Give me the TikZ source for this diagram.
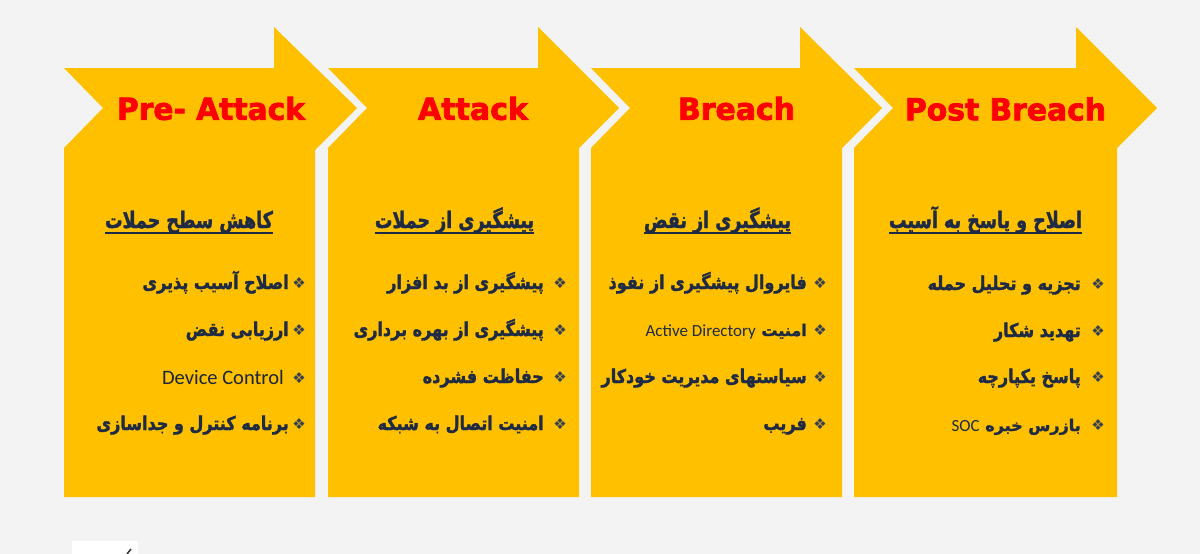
\documentclass[tikz,border=0pt]{standalone}
\usepackage{fontspec}
\usepackage{graphicx}
\TeXXeTstate=1
\newfontfamily\fa[Script=Arabic, BoldFeatures={FakeBold=1.8}]{DejaVu Sans}
\newfontfamily\ttlfont[BoldFeatures={FakeBold=2.5}]{DejaVu Sans}
\newfontfamily\latfont{Carlito}
\newfontfamily\symfont{DejaVu Sans}
\definecolor{bg}{HTML}{F3F3F3}
\definecolor{gold}{HTML}{FFC000}
\definecolor{navy}{HTML}{1F2A44}
\definecolor{redt}{HTML}{FF0000}
\newcommand{\panelshape}[4]{%
  \fill[gold] (#1,68) -- (#3,68) -- (#3,27) -- (#4,108) -- (#2,{108+#4-#2}) -- (#2,497) -- (#1,497) -- (#1,148) -- ({#1+39},108) -- cycle;}
\newcommand{\lat}[2]{\beginL{\latfont\mdseries\fontsize{#1}{#1}\selectfont #2}\endL}
\newcommand{\hdg}[1]{\scalebox{1}[1.3]{\beginR #1\endR}}
\newcommand{\itm}[1]{\scalebox{1}[1.18]{\beginR #1\endR}}
\tikzset{
  ttl/.style={inner sep=0pt, text=redt, font=\ttlfont\bfseries},
  heading/.style={inner xsep=0pt, inner ysep=0pt, anchor=base, text=navy, font=\fa\bfseries\fontsize{17.5}{21}\selectfont},
  uline/.style={navy, line width=1.3pt},
  item/.style={inner sep=0pt, anchor=base east, text=navy, font=\fa\bfseries\fontsize{16}{19}\selectfont},
  latitem/.style={inner sep=0pt, anchor=base east, text=navy!85!black, font=\latfont\fontsize{20.5}{24}\selectfont},
  bul/.style={inner sep=0pt, text=navy!75!gray, font=\symfont\fontsize{15}{17}\selectfont}
}
\begin{document}
\begin{tikzpicture}[x=1pt,y=-1pt]
\useasboundingbox (0,0) rectangle (1200,554);
\fill[bg] (0,0) rectangle (1200,554);
% panels
\panelshape{64}{315}{274}{357}
\panelshape{328}{579}{538}{619}
\panelshape{591}{842}{800}{882}
\panelshape{854}{1117}{1076}{1157}
% titles
\node[ttl] (t1) at (211,108.5) {\resizebox{188pt}{23pt}{Pre- Attack}};
\node[ttl] (t2) at (473,108.5) {\resizebox{110pt}{23pt}{Attack}};
\node[ttl] (t3) at (736.5,108.5) {\resizebox{117pt}{23pt}{Breach}};
\node[ttl] (t4) at (1005.5,109) {\resizebox{201pt}{23pt}{Post Breach}};
% headings
\node[heading] (h1) at (189,228) {\hdg{کاهش سطح حملات}};
\node[heading] (h2) at (454.5,228) {\hdg{پیشگیری از حملات}};
\node[heading] (h3) at (717.5,228) {\hdg{پیشگیری از نقض}};
\node[heading] (h4) at (985.5,228) {\hdg{اصلاح و پاسخ به آسیب}};
\draw[uline] (h1.west |- 0,233) -- (h1.east |- 0,233);
\draw[uline] (h2.west |- 0,233) -- (h2.east |- 0,233);
\draw[uline] (h3.west |- 0,233) -- (h3.east |- 0,233);
\draw[uline] (h4.west |- 0,233) -- (h4.east |- 0,233);
% panel 1 items
\node[item] (a1) at (289,289) {\itm{اصلاح آسیب پذیری}};
\node[item] (a2) at (289,336) {\itm{ارزیابی نقض}};
\node[latitem] (a3) at (284,384) {Device Control};
\node[item] (a4) at (289,430) {\itm{برنامه کنترل و جداسازی}};
\foreach \y [count=\i] in {289,336,384,430} \node[bul] (ba\i) at (299,\y-6) {❖};
% panel 2 items
\node[item] (b1) at (544,289) {\itm{پیشگیری از بد افزار}};
\node[item] (b2) at (544,336) {\itm{پیشگیری از بهره برداری}};
\node[item] (b3) at (544,383) {\itm{حفاظت فشرده}};
\node[item] (b4) at (544,430) {\itm{امنیت اتصال به شبکه}};
\foreach \y [count=\i] in {289,336,383,430} \node[bul] (bb\i) at (560,\y-6) {❖};
% panel 3 items
\node[item] (c1) at (807,289) {\itm{فایروال پیشگیری از نفوذ}};
\node[item] (c2) at (807,336) {\beginR امنیت \lat{17}{Active Directory}\endR};
\node[item] (c3) at (807,383) {\itm{سیاستهای مدیریت خودکار}};
\node[item] (c4) at (807,430) {\itm{فریب}};
\foreach \y [count=\i] in {289,336,383,430} \node[bul] (bc\i) at (820,\y-6) {❖};
% panel 4 items
\node[item] (d1) at (1081,290) {\itm{تجزیه و تحلیل حمله}};
\node[item] (d2) at (1081,337) {\itm{تهدید شکار}};
\node[item] (d3) at (1081,383) {\itm{پاسخ یکپارچه}};
\node[item] (d4) at (1081,431) {\beginR بازرس خبره \lat{17}{SOC}\endR};
\foreach \y [count=\i] in {290,337,383,431} \node[bul] (bd\i) at (1098,\y-6) {❖};
% small cut-off picture at the bottom
\fill[white] (72,541) rectangle (138,554);
\draw[black!80, line width=1.5pt] (127,554) -- (131,549);
\end{tikzpicture}
\end{document}
